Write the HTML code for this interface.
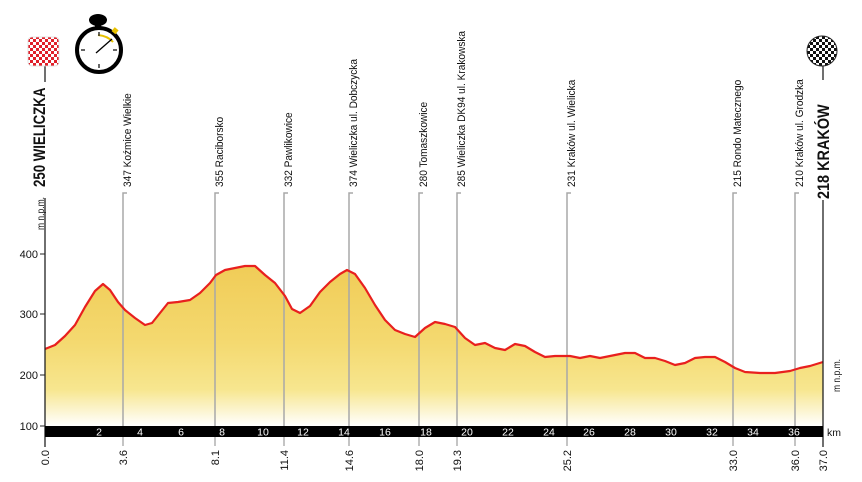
<!DOCTYPE html>
<html><head><meta charset="utf-8"><style>
html,body{margin:0;padding:0;background:#fff;}
svg{display:block;font-family:"Liberation Sans",sans-serif;}
</style></head><body>
<svg width="862" height="482" viewBox="0 0 862 482" xmlns="http://www.w3.org/2000/svg">
<defs>
<linearGradient id="fill" gradientUnits="userSpaceOnUse" x1="0" y1="260" x2="0" y2="426">
<stop offset="0" stop-color="#f0cb55"/>
<stop offset="0.5" stop-color="#f4d970"/>
<stop offset="0.78" stop-color="#f7e68f"/>
<stop offset="1" stop-color="#ffffff"/>
</linearGradient>
<pattern id="chk" width="6" height="6" patternUnits="userSpaceOnUse">
<rect width="6" height="6" fill="#fff"/><rect width="3" height="3" fill="#e0202a"/><rect x="3" y="3" width="3" height="3" fill="#e0202a"/>
</pattern>
<pattern id="chkb" width="6" height="6" patternUnits="userSpaceOnUse">
<rect width="6" height="6" fill="#fff"/><rect width="3" height="3" fill="#111"/><rect x="3" y="3" width="3" height="3" fill="#111"/>
</pattern>
</defs>

<path d="M45,349 L55,345 L65,336 L75,325 L85,307 L95,291 L103,284 L110,290 L118,302 L125,310 L135,318 L145,325 L152,323 L160,313 L168,303 L178,302 L190,300 L200,293 L210,283 L216,275 L225,270 L235,268 L245,266 L255,266 L265,275 L275,283 L285,296 L292,309 L300,313 L310,306 L320,292 L330,282 L340,274 L347,270 L355,274 L365,288 L375,305 L385,320 L395,330 L405,334 L415,337 L425,328 L435,322 L445,324 L455,327 L465,338 L475,345 L485,343 L495,348 L505,350 L515,344 L525,346 L535,352 L545,357 L555,356 L570,356 L580,358 L590,356 L600,358 L615,355 L625,353 L635,353 L645,358 L655,358 L665,361 L675,365 L685,363 L695,358 L705,357 L715,357 L725,362 L735,368 L745,372 L760,373 L775,373 L790,371 L800,368 L810,366 L823,362 L823,426 L45,426 Z" fill="url(#fill)"/>

<g stroke="#a8a8a8" stroke-width="1.5" fill="none">
<path d="M127,193 H123 V426"/>
<path d="M219,193 H215 V426"/>
<path d="M288,193 H284 V426"/>
<path d="M353,193 H349 V426"/>
<path d="M423,193 H419 V426"/>
<path d="M461,193 H457 V426"/>
<path d="M571,193 H567 V426"/>
<path d="M737,193 H733 V426"/>
<path d="M799,193 H795 V426"/>
</g>

<path d="M45,349 L55,345 L65,336 L75,325 L85,307 L95,291 L103,284 L110,290 L118,302 L125,310 L135,318 L145,325 L152,323 L160,313 L168,303 L178,302 L190,300 L200,293 L210,283 L216,275 L225,270 L235,268 L245,266 L255,266 L265,275 L275,283 L285,296 L292,309 L300,313 L310,306 L320,292 L330,282 L340,274 L347,270 L355,274 L365,288 L375,305 L385,320 L395,330 L405,334 L415,337 L425,328 L435,322 L445,324 L455,327 L465,338 L475,345 L485,343 L495,348 L505,350 L515,344 L525,346 L535,352 L545,357 L555,356 L570,356 L580,358 L590,356 L600,358 L615,355 L625,353 L635,353 L645,358 L655,358 L665,361 L675,365 L685,363 L695,358 L705,357 L715,357 L725,362 L735,368 L745,372 L760,373 L775,373 L790,371 L800,368 L810,366 L823,362" fill="none" stroke="#e8201e" stroke-width="2.2" stroke-linejoin="round"/>

<line x1="45" y1="198" x2="45" y2="447" stroke="#222" stroke-width="1.3"/>
<line x1="45" y1="65" x2="45" y2="82" stroke="#222" stroke-width="1.3"/>
<line x1="823" y1="66" x2="823" y2="80" stroke="#222" stroke-width="1.3"/>
<line x1="823" y1="200" x2="823" y2="447" stroke="#222" stroke-width="1.3"/>
<g stroke="#222" stroke-width="1">
<line x1="40" y1="254" x2="45" y2="254"/><line x1="40" y1="314" x2="45" y2="314"/>
<line x1="40" y1="375" x2="45" y2="375"/><line x1="40" y1="426" x2="45" y2="426"/>
</g>
<g font-size="11" fill="#111" text-anchor="end">
<text x="38" y="258">400</text><text x="38" y="318">300</text>
<text x="38" y="379">200</text><text x="38" y="430">100</text>
</g>

<rect x="45" y="426" width="778" height="11" fill="#000"/>
<g font-size="10.5" fill="#fff" text-anchor="middle">
<text x="99" y="435.5">2</text><text x="140" y="435.5">4</text><text x="181" y="435.5">6</text>
<text x="222" y="435.5">8</text><text x="263" y="435.5">10</text><text x="303" y="435.5">12</text>
<text x="344" y="435.5">14</text><text x="385" y="435.5">16</text><text x="426" y="435.5">18</text>
<text x="467" y="435.5">20</text><text x="508" y="435.5">22</text><text x="549" y="435.5">24</text>
<text x="589" y="435.5">26</text><text x="630" y="435.5">28</text><text x="671" y="435.5">30</text>
<text x="712" y="435.5">32</text><text x="753" y="435.5">34</text><text x="794" y="435.5">36</text>
</g>
<text x="827" y="436" font-size="10.5" fill="#111">km</text>

<g stroke="#888" stroke-width="1">
<line x1="123" y1="437" x2="123" y2="446"/><line x1="215" y1="437" x2="215" y2="446"/>
<line x1="284" y1="437" x2="284" y2="446"/><line x1="349" y1="437" x2="349" y2="446"/>
<line x1="419" y1="437" x2="419" y2="446"/><line x1="457" y1="437" x2="457" y2="446"/>
<line x1="567" y1="437" x2="567" y2="446"/><line x1="733" y1="437" x2="733" y2="446"/>
<line x1="795" y1="437" x2="795" y2="446"/>
</g>
<g font-size="11" fill="#111" text-anchor="end">
<text transform="translate(49,450) rotate(-90)">0.0</text>
<text transform="translate(127,450) rotate(-90)">3.6</text>
<text transform="translate(219,450) rotate(-90)">8.1</text>
<text transform="translate(288,450) rotate(-90)">11.4</text>
<text transform="translate(353,450) rotate(-90)">14.6</text>
<text transform="translate(423,450) rotate(-90)">18.0</text>
<text transform="translate(461,450) rotate(-90)">19.3</text>
<text transform="translate(571,450) rotate(-90)">25.2</text>
<text transform="translate(737,450) rotate(-90)">33.0</text>
<text transform="translate(799,450) rotate(-90)">36.0</text>
<text transform="translate(827,450) rotate(-90)">37.0</text>
</g>

<g font-size="11" fill="#111">
<text transform="translate(131,187) rotate(-90) scale(0.92,1)">347 Koźmice Wielkie</text>
<text transform="translate(223,187) rotate(-90) scale(0.92,1)">355 Raciborsko</text>
<text transform="translate(292,187) rotate(-90) scale(0.92,1)">332 Pawlikowice</text>
<text transform="translate(357,187) rotate(-90) scale(0.92,1)">374 Wieliczka ul. Dobczycka</text>
<text transform="translate(427,187) rotate(-90) scale(0.92,1)">280 Tomaszkowice</text>
<text transform="translate(465,187) rotate(-90) scale(0.92,1)">285 Wieliczka DK94 ul. Krakowska</text>
<text transform="translate(575,187) rotate(-90) scale(0.92,1)">231 Kraków ul. Wielicka</text>
<text transform="translate(741,187) rotate(-90) scale(0.92,1)">215 Rondo Matecznego</text>
<text transform="translate(803,187) rotate(-90) scale(0.92,1)">210 Kraków ul. Grodzka</text>
</g>
<g font-size="17" font-weight="bold" fill="#111">
<text transform="translate(45,187) rotate(-90) scale(0.78,1)">250 WIELICZKA</text>
<text transform="translate(829,199) rotate(-90) scale(0.85,1)">218 KRAKÓW</text>
</g>
<g font-size="10" fill="#111">
<text transform="translate(44,230) rotate(-90) scale(0.85,1)">m n.p.m.</text>
<text transform="translate(840,392) rotate(-90) scale(0.85,1)">m n.p.m.</text>
</g>

<rect x="28" y="37" width="31" height="29" rx="4" fill="url(#chk)" stroke="#ddd" stroke-width="0.8"/>
<circle cx="822" cy="51" r="15" fill="url(#chkb)" stroke="#222" stroke-width="1"/>

<g>
<rect x="95" y="22" width="6" height="8" fill="#000"/>
<ellipse cx="98" cy="20" rx="9" ry="6" fill="#000"/>
<circle cx="99" cy="50" r="22" fill="#fff" stroke="#000" stroke-width="4"/>
<rect x="113" y="28" width="5" height="5" fill="#e8c100" transform="rotate(40 115 30)"/>
<path d="M98,35 Q108,36 113,42" stroke="#e8c100" stroke-width="2" fill="none"/>
<g stroke="#333" stroke-width="1.5">
<line x1="99" y1="32" x2="99" y2="36"/><line x1="99" y1="64" x2="99" y2="68"/>
<line x1="81" y1="50" x2="85" y2="50"/><line x1="113" y1="50" x2="117" y2="50"/>
</g>
<line x1="96" y1="53" x2="112" y2="39" stroke="#000" stroke-width="1.3"/>
</g>
</svg>
</body></html>
